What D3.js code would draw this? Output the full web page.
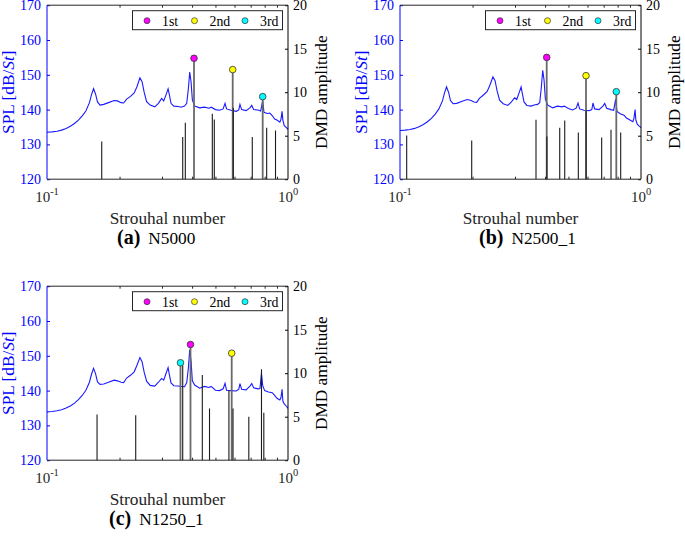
<!DOCTYPE html>
<html><head><meta charset="utf-8">
<script src="https://cdn.jsdelivr.net/npm/d3@7"></script>
<style>body{margin:0;background:#fff} svg{display:block} text{font-family:"Liberation Serif","Times New Roman",serif}</style>
</head><body><svg id="c" width="685" height="538"></svg>
<script>
// ---------- data ----------
const xTicks = [0.1, 1];
const xTickExp = ["-1", "0"];
const xMinorTicks = [0.2, 0.3, 0.4, 0.5, 0.6, 0.7, 0.8, 0.9];
const splTicks = [120, 130, 140, 150, 160, 170];
const dmdTicks = [0, 5, 10, 15, 20];
const legendLabels = ["1st", "2nd", "3rd"];

// panel (a) N5000
const splStA = [0.100,0.105,0.110,0.115,0.120,0.125,0.130,0.135,0.140,0.145,0.150,0.153,0.156,0.159,0.162,0.166,0.172,0.180,0.190,0.196,0.203,0.208,0.214,0.222,0.230,0.236,0.243,0.248,0.253,0.259,0.268,0.280,0.290,0.299,0.305,0.312,0.318,0.322,0.327,0.336,0.350,0.360,0.372,0.380,0.386,0.391,0.396,0.401,0.410,0.430,0.450,0.470,0.480,0.500,0.520,0.538,0.548,0.556,0.580,0.610,0.625,0.632,0.642,0.670,0.695,0.707,0.720,0.750,0.770,0.785,0.795,0.820,0.840,0.860,0.880,0.900,0.925,0.935,0.945,0.952,0.965,0.985,1.000];
const splA   = [133.5,133.6,133.8,134.1,134.6,135.2,136.0,137.0,138.2,139.6,142.0,144.3,146.0,144.5,142.2,141.3,141.5,142.0,142.6,142.5,142.0,141.9,143.0,143.8,144.8,146.5,149.1,148.0,145.0,142.3,141.3,140.8,141.8,143.2,142.5,144.3,146.0,144.2,141.8,141.0,140.9,140.7,141.0,141.8,146.0,150.8,148.0,142.8,141.0,140.5,140.7,140.4,140.7,140.0,139.8,140.2,141.8,140.2,139.8,139.5,139.9,141.5,140.0,139.7,140.5,141.2,140.0,139.9,139.6,142.5,139.2,138.9,139.0,138.3,137.3,137.0,136.4,137.2,139.5,137.0,135.4,134.8,134.3];
const stemStA   = [0.1687,0.3657,0.3749,0.4074,0.4852,0.4945,0.5896,0.5930,0.7108,0.7852,0.8156,0.8875];
const stemAmpA  = [4.34,4.84,6.5,13.9,7.53,6.87,12.6,8.2,4.84,9.49,5.9,5.6];
const stemRankA = [0,0,0,1,0,0,2,0,0,3,0,0];

// panel (b) N2500_1
const splStB = [0.100,0.105,0.110,0.115,0.120,0.125,0.130,0.135,0.140,0.145,0.150,0.153,0.156,0.159,0.162,0.166,0.172,0.180,0.190,0.196,0.203,0.208,0.214,0.222,0.230,0.236,0.243,0.248,0.253,0.259,0.268,0.280,0.290,0.299,0.305,0.312,0.318,0.322,0.327,0.336,0.350,0.360,0.372,0.380,0.386,0.391,0.396,0.401,0.410,0.430,0.450,0.470,0.480,0.500,0.520,0.538,0.548,0.556,0.580,0.610,0.625,0.632,0.642,0.670,0.695,0.707,0.720,0.750,0.770,0.785,0.795,0.820,0.850,0.870,0.900,0.925,0.935,0.945,0.952,0.965,0.985,1.000];
const splB   = [134.0,134.1,134.3,134.6,135.1,135.7,136.5,137.5,138.7,140.2,142.5,144.8,146.5,145.0,142.6,141.7,141.8,142.3,142.9,142.7,142.2,142.1,143.3,144.2,145.2,147.0,149.4,148.3,145.3,142.7,141.7,141.2,142.2,143.4,142.9,144.8,146.5,144.5,142.2,141.2,141.0,141.3,141.5,142.0,146.5,151.3,148.5,143.0,141.3,140.5,141.0,140.8,141.0,140.3,139.9,140.4,141.9,140.2,139.8,139.7,140.0,141.9,140.2,140.0,141.0,141.8,140.4,140.0,139.8,143.0,139.5,138.8,138.4,137.6,137.0,136.5,137.5,140.0,137.0,135.8,135.2,134.8];
const stemStB   = [0.1066,0.1984,0.3667,0.4062,0.4070,0.4600,0.4825,0.5495,0.5913,0.5920,0.6868,0.7508,0.7898,0.8236];
const stemAmpB  = [5.03,4.46,6.84,14.0,4.9,5.92,6.76,5.38,11.9,7.9,4.8,5.69,10.06,5.38];
const stemRankB = [0,0,0,1,0,0,0,0,2,0,0,0,3,0];

// panel (c) N1250_1
const splStC = [0.100,0.105,0.110,0.115,0.120,0.125,0.130,0.135,0.140,0.145,0.150,0.153,0.156,0.159,0.162,0.166,0.172,0.180,0.190,0.196,0.203,0.208,0.214,0.222,0.230,0.236,0.243,0.248,0.253,0.259,0.268,0.280,0.290,0.299,0.305,0.312,0.318,0.322,0.327,0.336,0.350,0.360,0.372,0.380,0.386,0.391,0.396,0.401,0.410,0.430,0.450,0.470,0.480,0.500,0.520,0.538,0.548,0.556,0.580,0.610,0.625,0.632,0.642,0.670,0.695,0.707,0.720,0.750,0.765,0.776,0.785,0.800,0.830,0.860,0.880,0.900,0.925,0.935,0.945,0.952,0.965,0.985,1.000];
const splC   = [133.9,134.0,134.2,134.5,135.0,135.6,136.4,137.4,138.6,140.1,142.4,144.7,146.4,144.9,142.5,141.8,141.9,142.4,143.0,142.8,142.4,142.3,143.6,144.4,145.4,147.2,149.5,148.3,145.3,142.7,141.5,141.3,142.4,143.5,143.0,145.0,146.6,144.5,142.2,141.4,141.3,141.2,141.1,142.3,146.5,151.7,148.5,142.8,141.6,140.7,141.2,140.9,141.2,140.1,140.0,140.5,142.1,140.1,140.0,139.9,140.4,142.0,140.4,140.2,141.3,142.0,140.8,140.5,140.6,145.0,141.5,140.0,139.6,139.4,138.6,137.8,137.3,138.0,140.4,137.0,136.2,135.5,134.9];
const stemStC   = [0.1613,0.2334,0.3580,0.3657,0.3939,0.4410,0.4724,0.5686,0.5840,0.5913,0.6877,0.7762,0.7937];
const stemAmpC  = [5.26,5.18,11.2,10.9,13.3,9.78,5.95,8.0,12.3,5.95,4.99,10.45,5.45];
const stemRankC = [0,0,3,0,1,0,0,0,2,0,0,0,0];

// ---------- layout ----------
const markerColors = ["#ff00ff", "#ffff00", "#00ffff"];
const BLUE = "#0000ff";
const W = 241, H = 174;
const panels = [
  {left: 47,  top: 5.2,   st: splStA, spl: splA, sSt: stemStA, sAmp: stemAmpA, sRank: stemRankA, cap: ["(a)", "N5000"],   capX: 117},
  {left: 400, top: 5.2,   st: splStB, spl: splB, sSt: stemStB, sAmp: stemAmpB, sRank: stemRankB, cap: ["(b)", "N2500_1"], capX: 479},
  {left: 47,  top: 286.2, st: splStC, spl: splC, sSt: stemStC, sAmp: stemAmpC, sRank: stemRankC, cap: ["(c)", "N1250_1"], capX: 109}
];

const svg = d3.select("#c");
svg.append("rect").attr("width", 685).attr("height", 538).attr("fill", "#fff");

panels.forEach(p => {
  const g = svg.append("g").attr("transform", `translate(${p.left},${p.top})`);
  const x = d3.scaleLog().domain([0.1, 1]).range([0, W]);
  const yL = d3.scaleLinear().domain([120, 170]).range([H, 0]);
  const yR = d3.scaleLinear().domain([0, 20]).range([H, 0]);

  // SPL curve
  const pts = p.st.map((s, i) => [s, p.spl[i]]);
  g.append("path").datum(pts)
    .attr("d", d3.line().x(d => x(d[0])).y(d => yL(d[1])))
    .attr("fill", "none").attr("stroke", "#1a1aff").attr("stroke-width", 1.1);

  // stems
  const stems = p.sSt.map((s, i) => ({s, a: p.sAmp[i], r: p.sRank[i]}));
  const ranked = stems.filter(d => d.r > 0), plain = stems.filter(d => d.r === 0);
  g.selectAll(".rs").data(ranked).join("line")
    .attr("x1", d => x(d.s)).attr("x2", d => x(d.s))
    .attr("y1", yR(0)).attr("y2", d => yR(d.a))
    .attr("stroke", "#6a6a6a").attr("stroke-width", 1.8);
  g.selectAll(".ps").data(plain).join("line")
    .attr("x1", d => x(d.s)).attr("x2", d => x(d.s))
    .attr("y1", yR(0)).attr("y2", d => yR(d.a))
    .attr("stroke", "#1a1a1a").attr("stroke-width", 1.1);
  g.selectAll(".mk").data(ranked).join("circle")
    .attr("cx", d => x(d.s)).attr("cy", d => yR(d.a)).attr("r", 3.3)
    .attr("fill", d => markerColors[d.r - 1]).attr("stroke", "#333").attr("stroke-width", 0.8);

  // axes
  const styleAxis = (sel, col) => {
    sel.attr("font-size", 14).attr("font-family", '"Liberation Serif","Times New Roman",serif');
    sel.select(".domain").remove();
    sel.selectAll(".tick line").attr("stroke", col);
    sel.selectAll(".tick text").attr("fill", col);
  };
  const gl = g.append("g").call(d3.axisLeft(yL).tickValues(splTicks).tickSizeInner(-3).tickSizeOuter(0).tickPadding(6));
  styleAxis(gl, BLUE);
  const gr = g.append("g").attr("transform", `translate(${W},0)`)
    .call(d3.axisRight(yR).tickValues(dmdTicks).tickSizeInner(-3).tickSizeOuter(0).tickPadding(5));
  styleAxis(gr, "#000");
  const gb = g.append("g").attr("transform", `translate(0,${H})`)
    .call(d3.axisBottom(x).tickValues(xMinorTicks).tickFormat("").tickSizeInner(-2.5).tickSizeOuter(0));
  styleAxis(gb, "#262626");
  const gt = g.append("g")
    .call(d3.axisTop(x).tickValues(xMinorTicks).tickFormat("").tickSizeInner(-2.5).tickSizeOuter(0));
  styleAxis(gt, "#262626");

  // x major labels 10^n
  xTicks.forEach((t, i) => {
    const tx = g.append("text").attr("x", x(t)).attr("y", H + 23).attr("text-anchor", "middle")
      .attr("font-size", 15).attr("fill", "#262626");
    tx.append("tspan").text("10");
    tx.append("tspan").attr("dy", -7).attr("font-size", 10.5).text(xTickExp[i]);
  });

  // frame
  g.append("line").attr("x1", 0).attr("x2", W).attr("y1", H).attr("y2", H).attr("stroke", "#262626");
  g.append("line").attr("x1", 0).attr("x2", W).attr("y1", 0).attr("y2", 0).attr("stroke", "#262626");
  g.append("line").attr("x1", W).attr("x2", W).attr("y1", 0).attr("y2", H).attr("stroke", "#000");
  g.append("line").attr("x1", 0).attr("x2", 0).attr("y1", 0).attr("y2", H).attr("stroke", BLUE);

  // axis titles
  g.append("text").attr("x", W / 2).attr("y", H + 44.5).attr("text-anchor", "middle")
    .attr("font-size", 17.3).attr("fill", "#262626").text("Strouhal number");
  const yl = g.append("text").attr("transform", `translate(-33,${H / 2}) rotate(-90)`)
    .attr("text-anchor", "middle").attr("font-size", 17.3).attr("fill", BLUE);
  yl.append("tspan").text("SPL [dB/");
  yl.append("tspan").attr("font-style", "italic").text("St");
  yl.append("tspan").text("]");
  g.append("text").attr("transform", `translate(${W + 39},${H / 2}) rotate(-90)`)
    .attr("text-anchor", "middle").attr("font-size", 17.3).attr("fill", "#000").text("DMD amplitude");

  // legend
  const lg = g.append("g").attr("transform", "translate(85.5,5.5)");
  lg.append("rect").attr("width", 150).attr("height", 19).attr("fill", "#fff").attr("stroke", "#262626").attr("stroke-width", 1);
  const lx = [14.5, 62, 112.5];
  legendLabels.forEach((lab, i) => {
    lg.append("circle").attr("cx", lx[i]).attr("cy", 10).attr("r", 3)
      .attr("fill", markerColors[i]).attr("stroke", "#333").attr("stroke-width", 0.7);
    lg.append("text").attr("x", lx[i] + 15).attr("y", 15).attr("font-size", 13.8).attr("fill", "#000").text(lab);
  });

  // caption
  const cap = svg.append("text").attr("x", p.capX).attr("y", p.top + H + 65).attr("fill", "#000");
  cap.append("tspan").attr("font-weight", "bold").attr("font-size", 20).text(p.cap[0]);
  cap.append("tspan").attr("dx", 8).attr("font-size", 17.3).text(p.cap[1]);
});
</script></body></html>
